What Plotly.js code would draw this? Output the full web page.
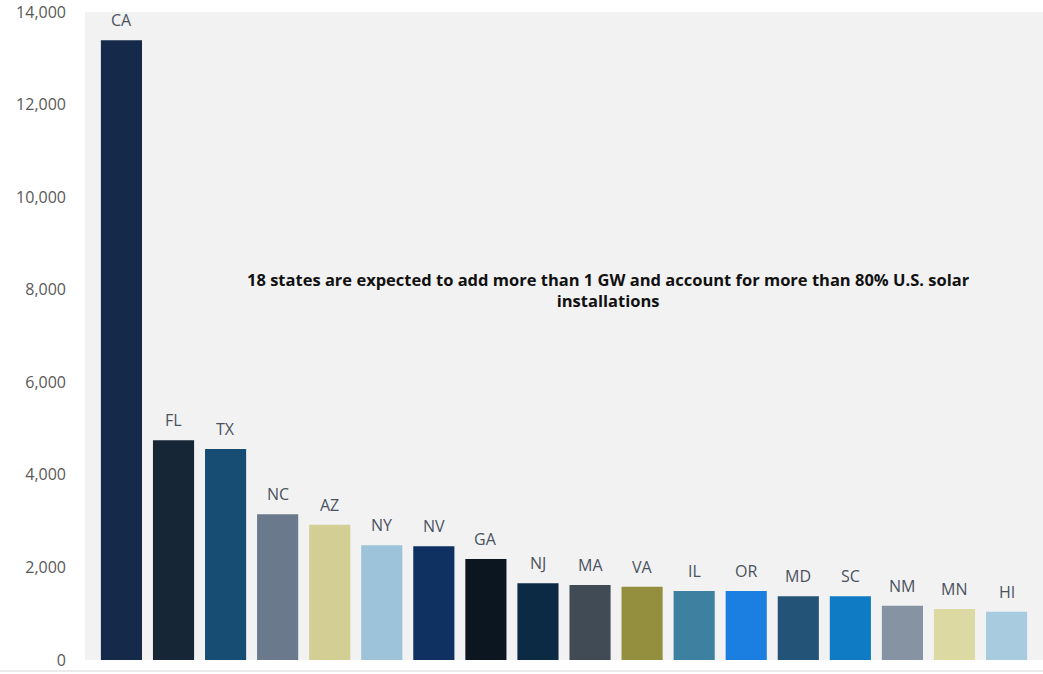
<!DOCTYPE html>
<html>
<head>
<meta charset="utf-8">
<script src="https://cdn.plot.ly/plotly-3.0.1.min.js"></script>
<style>html,body{margin:0;padding:0;background:#fff;}#chart{width:1043px;height:674px;}</style>
</head>
<body>
<div id="chart"></div>
<script>
const states = ["CA","FL","TX","NC","AZ","NY","NV","GA","NJ","MA","VA","IL","OR","MD","SC","NM","MN","HI"];
const capacityMW = [13390,4750,4560,3150,2920,2480,2460,2180,1660,1620,1580,1490,1490,1380,1380,1170,1100,1040];
const barColors = ["#15294a","#172636","#174d73","#6a7a8c","#d3cf94","#9dc3da","#0f3161","#0c1620","#0d2a45","#414b55","#948f3e","#3e80a0","#1a7fe0","#245378","#0f7bc4","#8593a3","#dcd9a3","#a8cbe0"];
const yTicks = [0,2000,4000,6000,8000,10000,12000,14000];
const yTickText = ["0","2,000","4,000","6,000","8,000","10,000","12,000","14,000"];
const noteText = "18 states are expected to add more than 1 GW and account for more than 80% U.S. solar<br>installations";

const trace = {
  type: "bar",
  x: states,
  y: capacityMW,
  marker: {color: barColors, line: {width: 0}},
  hoverinfo: "x+y",
  cliponaxis: false
};

const annotations = states.map((s, i) => ({
  x: s, y: capacityMW[i], xref: "x", yref: "y",
  text: s, showarrow: false, yanchor: "bottom", yshift: 7,
  font: {family: "Open Sans, sans-serif", size: 16, color: "#4a5260"}
}));
annotations.push({
  x: 9.35, y: 8000, xref: "x", yref: "y",
  text: noteText, showarrow: false, align: "center",
  font: {family: "Open Sans, sans-serif", size: 16.5, color: "#111111", weight: "bold"}
});

const layout = {
  width: 1043, height: 674,
  margin: {l: 85, r: 0, t: 12, b: 14},
  paper_bgcolor: "#ffffff",
  plot_bgcolor: "#f2f2f2",
  bargap: 0.21,
  showlegend: false,
  xaxis: {
    type: "category", range: [-0.7, 17.7], showticklabels: false,
    showgrid: false, zeroline: false, showline: false, ticks: ""
  },
  yaxis: {
    range: [0, 14000], tickvals: yTicks, ticktext: yTickText,
    showgrid: false, zeroline: false, showline: false, ticks: "",
    ticklabelstandoff: 18,
    tickfont: {family: "Open Sans, sans-serif", size: 16, color: "#595959"}
  },
  annotations: annotations,
  shapes: [{
    type: "line", xref: "paper", yref: "paper",
    x0: -0.09, x1: 1, y0: -0.017, y1: -0.017,
    line: {color: "#e6e6e6", width: 1.5}
  }]
};

Plotly.newPlot("chart", [trace], layout, {displayModeBar: false, staticPlot: true});
</script>
</body>
</html>
